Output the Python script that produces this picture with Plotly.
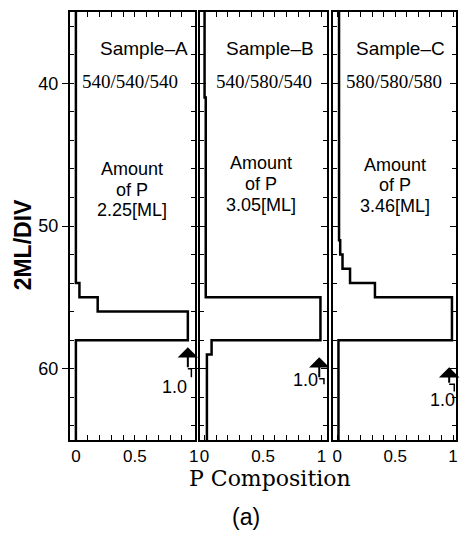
import plotly.graph_objects as go

# -------------------------------
# Data
# -------------------------------
samples = ["Sample–A", "Sample–B", "Sample–C"]
growth = ["540/540/540", "540/580/540", "580/580/580"]
amounts = ["2.25[ML]", "3.05[ML]", "3.46[ML]"]

# layer boundaries (ML) and P composition inside each layer
edges_a = [35, 54, 55, 56, 58, 65]
comp_a = [0.0, 0.03, 0.185, 0.95, 0.0]
edges_b = [35, 41, 55, 58, 59, 65]
comp_b = [0.0, 0.01, 0.99, 0.06, 0.02]
edges_c = [35, 51, 52, 53, 54, 55, 58, 65]
comp_c = [0.015, 0.025, 0.045, 0.11, 0.325, 0.99, 0.01]

# "1.0" markers: arrow x, tip depth, tail depth, hook x, hook end, label x, label depth
arrow_x = [0.95, 0.98, 0.966]
arrow_tip = [58.5, 59.2, 59.9]
arrow_tail = [60.0, 60.7, 61.1]
hook_x = [0.98, 1.02, 1.01]
hook_end = [60.6, 61.1, 61.6]
label_x = [0.84, 0.86, 0.906]
label_y = [61.3, 60.8, 62.2]

# text positions inside each panel (x in composition, y in ML)
title_x = [0.58, 0.56, 0.55]
growth_x = [0.46, 0.51, 0.49]
amount_x = [0.48, 0.48, 0.50]
amount_y = [[46.0, 47.45, 48.9], [45.6, 47.05, 48.5], [45.7, 47.15, 48.6]]

x_ticks = [i / 10 for i in range(11)]
x_text = ["0", "", "", "", "", "0.5", "", "", "", "", "1"]

SANS = "Liberation Sans"
SERIF = "Liberation Serif"

profiles = [(edges_a, comp_a), (edges_b, comp_b), (edges_c, comp_c)]
domains = [[0, 0.323], [0.338, 0.667], [0.682, 1]]
ranges = [[-0.05, 1.008], [-0.035, 1.05], [-0.035, 1.025]]

fig = go.Figure()

for i, (edges, comp) in enumerate(profiles):
    xs = comp + [comp[-1]]
    ys = edges
    ax_id = "" if i == 0 else str(i + 1)
    xr, yr = "x" + ax_id, "y" + ax_id
    fig.add_trace(go.Scatter(
        x=xs, y=ys, mode="lines",
        line=dict(color="black", width=2.5, shape="vh"),
        xaxis=xr, yaxis=yr, showlegend=False, hoverinfo="skip",
    ))
    # little hook under each arrow
    fig.add_trace(go.Scatter(
        x=[arrow_x[i], hook_x[i], hook_x[i]],
        y=[arrow_tail[i], arrow_tail[i], hook_end[i]],
        mode="lines", line=dict(color="black", width=1.5),
        xaxis=xr, yaxis=yr, showlegend=False, hoverinfo="skip",
    ))

    fig.add_annotation(x=title_x[i], y=37.55, xref=xr, yref=yr, text=samples[i],
                       showarrow=False, font=dict(family=SANS, size=19, color="black"))
    fig.add_annotation(x=growth_x[i], y=39.9, xref=xr, yref=yr, text=growth[i],
                       showarrow=False, font=dict(family=SERIF, size=19, color="black"))
    for txt, yy in zip(["Amount", "of P", amounts[i]], amount_y[i]):
        fig.add_annotation(x=amount_x[i], y=yy, xref=xr, yref=yr, text=txt,
                           showarrow=False, font=dict(family=SANS, size=18, color="black"))
    fig.add_annotation(x=arrow_x[i], y=arrow_tip[i], ax=arrow_x[i], ay=arrow_tail[i],
                       xref=xr, yref=yr, axref=xr, ayref=yr, text="",
                       showarrow=True, arrowhead=1, arrowsize=1.7, arrowwidth=2,
                       arrowcolor="black", standoff=0, startstandoff=0)
    fig.add_annotation(x=label_x[i], y=label_y[i], xref=xr, yref=yr, text="1.0",
                       showarrow=False, font=dict(family=SANS, size=18, color="black"))

    xaxis = dict(
        domain=domains[i], range=ranges[i], anchor=yr,
        tickmode="array", tickvals=x_ticks, ticktext=x_text,
        ticks="inside", ticklen=5, tickwidth=1, tickcolor="black",
        showline=True, linewidth=2, linecolor="black", mirror="ticks",
        showgrid=False, zeroline=False,
        tickfont=dict(family=SANS, size=17, color="black"),
    )
    yaxis = dict(
        domain=[0, 1], range=[65, 35], anchor=xr,
        tickmode="linear", tick0=40, dtick=10,
        ticks="outside" if i == 0 else "inside", ticklen=6, tickwidth=1, tickcolor="black",
        minor=dict(tick0=0, dtick=2, ticks="inside", ticklen=4, tickcolor="black"),
        showline=True, linewidth=2, linecolor="black", mirror="ticks",
        showgrid=False, zeroline=False, showticklabels=(i == 0),
        tickfont=dict(family=SANS, size=18, color="black"),
    )
    if i > 0:
        yaxis["matches"] = "y"
    fig.update_layout({"xaxis" + ax_id: xaxis, "yaxis" + ax_id: yaxis})

# axis titles and caption
fig.add_annotation(x=-0.123, y=0.456, xref="paper", yref="paper", text="<b>2ML/DIV</b>",
                   xanchor="center", yanchor="middle", textangle=-90, showarrow=False,
                   font=dict(family=SANS, size=23, color="black"))
fig.add_annotation(x=0.518, y=-0.089, xref="paper", yref="paper", text="P Composition",
                   xanchor="center", yanchor="middle", showarrow=False,
                   font=dict(family="DejaVu Serif", size=22, color="black"))
fig.add_annotation(x=0.456, y=-0.18, xref="paper", yref="paper", text="(a)",
                   xanchor="center", yanchor="middle", showarrow=False,
                   font=dict(family=SANS, size=23, color="black"))

fig.update_layout(
    width=463, height=533,
    margin=dict(l=70, r=3, t=12, b=93),
    plot_bgcolor="white", paper_bgcolor="white",
    showlegend=False,
)

fig.write_html("out.html", config={"displayModeBar": False},
               post_script="document.body.style.margin='0';")
